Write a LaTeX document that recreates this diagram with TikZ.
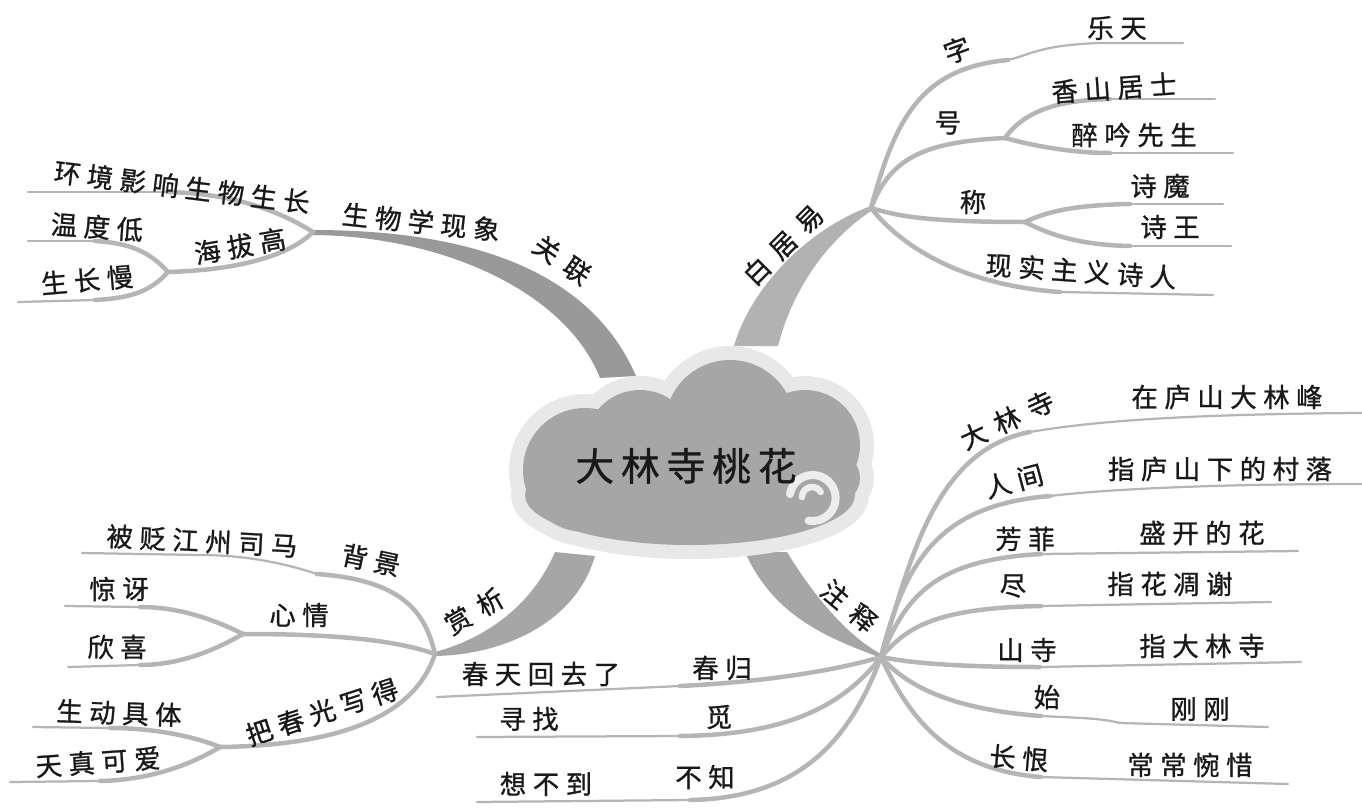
\documentclass[tikz,border=0pt]{standalone}
\usepackage{fontspec}
\newfontfamily\cjk[LetterSpace=25, FakeBold=1]{Noto Sans CJK SC}
\newfontfamily\cjkwide[LetterSpace=40, FakeBold=1]{Noto Sans CJK SC}
\newfontfamily\cjktitle[LetterSpace=18, FakeBold=1]{Noto Sans CJK SC}

\begin{document}
\begin{tikzpicture}[x=0.02cm, y=-0.02cm,
  lbl/.style={font=\cjk\fontsize{15}{18}\selectfont, inner sep=0pt, text=black!90},
  widelbl/.style={font=\cjkwide\fontsize{15}{18}\selectfont, inner sep=0pt, text=black!90},
  limb/.style={draw=black!29, line width=0.09cm, line cap=round},
  twig/.style={draw=black!29, line width=0.045cm, line cap=round},
  cloudshape/.style={insert path={(585,470) circle[radius=62] (640,445) circle[radius=55]
    (730,425) circle[radius=65] (805,445) circle[radius=55] (835,478) circle[radius=25]
    (690,495) ellipse[x radius=165, y radius=50]}}]

  \useasboundingbox (0,0) rectangle (1362,808);

  % Hubs
  \coordinate (hubA) at (313,232);
  \coordinate (hubB) at (871,208);
  \coordinate (hubC) at (881,657);
  \coordinate (hubD) at (435,654);

  % Main branches (tapered)
  \fill[black!40] (313,230) .. controls (470,230) and (590,270) .. (636,376) -- (600,378)
    .. controls (565,290) and (440,236) .. (313,235) -- cycle;
  \fill[black!30] (734,346) .. controls (750,290) and (805,230) .. (871,206) -- (871,211)
    .. controls (835,235) and (795,280) .. (778,346) -- cycle;
  \fill[black!35] (745,552) .. controls (775,620) and (835,640) .. (881,658) -- (881,654)
    .. controls (845,635) and (810,590) .. (787,552) -- cycle;
  \fill[black!35] (555,552) .. controls (530,610) and (480,640) .. (435,652) -- (435,656)
    .. controls (500,655) and (575,625) .. (595,556) -- cycle;

  % Cloud
  \path[draw=black!9, fill=black!9, line width=0.56cm, cloudshape];
  \path[fill=black!35, cloudshape];
  \draw[black!7, line width=0.16cm, line cap=round] (790,494) arc[start angle=190, end angle=460, radius=23];
  \draw[black!7, line width=0.13cm, line cap=round] (802,497) arc[start angle=180, end angle=330, radius=10];
  \node[font=\cjktitle\fontsize{22}{26}\selectfont, inner sep=0pt, text=black!90] (title) at (686,466) {大林寺桃花};

  % Upper left group
  \coordinate (envK) at (167,192);
  \coordinate (envE) at (28,192);
  \coordinate (hbH) at (168,272);
  \coordinate (wdK) at (95,241);
  \coordinate (wdE) at (28,241);
  \coordinate (szK) at (95,300);
  \coordinate (szE) at (18,302);
  \draw[limb] (hubA) .. controls (270,205) and (220,193) .. (envK);
  \draw[twig] (envK) -- (envE);
  \draw[limb] (hubA) .. controls (290,255) and (240,270) .. (hbH);
  \draw[limb] (hbH) .. controls (150,252) and (130,243) .. (wdK);
  \draw[twig] (wdK) -- (wdE);
  \draw[limb] (hbH) .. controls (150,292) and (130,298) .. (szK);
  \draw[twig] (szK) -- (szE);

  \node[widelbl, rotate=-35] (guanlian) at (562,260) {关联};
  \node[lbl, rotate=-6] (swxx) at (421,222) {生物学现象};
  \node[lbl, rotate=-7] (hjyx) at (182,187) {环境影响生物生长};
  \node[lbl, rotate=10] (hbg) at (240,246) {海拔高};
  \node[lbl, rotate=-4] (wdd) at (97,227) {温度低};
  \node[lbl, rotate=5] (szm) at (87,280) {生长慢};

  % Upper right group
  \coordinate (ziK) at (1008,60);
  \coordinate (ziE) at (1183,43);
  \coordinate (haoH) at (1005,138);
  \coordinate (xsK) at (1110,99);
  \coordinate (xsE) at (1215,99);
  \coordinate (zyK) at (1110,153);
  \coordinate (zyE) at (1233,153);
  \coordinate (chH) at (1025,222);
  \coordinate (smK) at (1130,204);
  \coordinate (smE) at (1223,204);
  \coordinate (swK) at (1130,246);
  \coordinate (swE) at (1231,246);
  \coordinate (xsrK) at (1060,292);
  \coordinate (xsrE) at (1213,295);
  \draw[limb] (hubB) .. controls (895,120) and (920,68) .. (ziK);
  \draw[twig] (ziK) .. controls (1030,55) and (1040,45) .. (1100,43) -- (ziE);
  \draw[limb] (hubB) .. controls (890,160) and (920,142) .. (haoH);
  \draw[limb] (haoH) .. controls (1025,110) and (1060,100) .. (xsK);
  \draw[twig] (xsK) -- (xsE);
  \draw[limb] (haoH) .. controls (1030,145) and (1070,153) .. (zyK);
  \draw[twig] (zyK) -- (zyE);
  \draw[limb] (hubB) .. controls (895,215) and (920,222) .. (chH);
  \draw[limb] (chH) .. controls (1050,210) and (1080,205) .. (smK);
  \draw[twig] (smK) -- (smE);
  \draw[limb] (chH) .. controls (1050,235) and (1080,245) .. (swK);
  \draw[twig] (swK) -- (swE);
  \draw[limb] (hubB) .. controls (900,245) and (960,285) .. (xsrK);
  \draw[twig] (xsrK) -- (xsrE);

  \node[widelbl, rotate=45] (bjy) at (783,245) {白居易};
  \node[lbl, rotate=20] (zi) at (957,50) {字};
  \node[lbl] (letian) at (1117,28) {乐天};
  \node[lbl] (hao) at (948,123) {号};
  \node[lbl, rotate=4] (xsjs) at (1114,88) {香山居士};
  \node[lbl] (zyxs) at (1134,135) {醉吟先生};
  \node[lbl] (cheng) at (973,202) {称};
  \node[lbl] (shimo) at (1160,186) {诗魔};
  \node[lbl] (shiwang) at (1170,227) {诗王};
  \node[lbl, rotate=-4] (xszy) at (1081,271) {现实主义诗人};

  % Lower right group
  \coordinate (dlK) at (1030,432);
  \coordinate (dlE) at (1362,413);
  \coordinate (rjK) at (1050,496);
  \coordinate (rjE) at (1362,484);
  \coordinate (ffK) at (1041,554);
  \coordinate (ffE) at (1298,551);
  \coordinate (jinK) at (1041,606);
  \coordinate (jinE) at (1271,602);
  \coordinate (ssK) at (1040,667);
  \coordinate (ssE) at (1301,662);
  \coordinate (shiK) at (1041,716);
  \coordinate (shiE) at (1268,727);
  \coordinate (chK) at (1041,777);
  \coordinate (chE) at (1288,784);
  \coordinate (cgK) at (680,686);
  \coordinate (cgE) at (437,697);
  \coordinate (miK) at (680,736);
  \coordinate (miE) at (477,737);
  \coordinate (bzK) at (690,800);
  \coordinate (bzE) at (477,802);
  \draw[limb] (hubC) .. controls (910,560) and (935,450) .. (dlK);
  \draw[twig] (dlK) .. controls (1100,420) and (1200,414) .. (dlE);
  \draw[limb] (hubC) .. controls (905,560) and (940,505) .. (rjK);
  \draw[twig] (rjK) .. controls (1100,490) and (1200,484) .. (rjE);
  \draw[limb] (hubC) .. controls (905,600) and (930,560) .. (ffK);
  \draw[twig] (ffK) -- (ffE);
  \draw[limb] (hubC) .. controls (905,630) and (930,608) .. (jinK);
  \draw[twig] (jinK) -- (jinE);
  \draw[limb] (hubC) .. controls (920,665) and (980,667) .. (ssK);
  \draw[twig] (ssK) -- (ssE);
  \draw[limb] (hubC) .. controls (910,690) and (960,710) .. (shiK);
  \draw[twig] (shiK) .. controls (1080,718) and (1100,718) .. (1120,723) -- (shiE);
  \draw[limb] (hubC) .. controls (910,720) and (950,770) .. (chK);
  \draw[twig] (chK) -- (chE);
  \draw[limb] (hubC) .. controls (830,672) and (760,682) .. (cgK);
  \draw[twig] (cgK) -- (cgE);
  \draw[limb] (hubC) .. controls (840,710) and (780,735) .. (miK);
  \draw[twig] (miK) -- (miE);
  \draw[limb] (hubC) .. controls (850,740) and (800,798) .. (bzK);
  \draw[twig] (bzK) -- (bzE);

  \node[widelbl, rotate=-40] (zhushi) at (849,606) {注释};
  \node[widelbl, rotate=25] (dls) at (1007,420) {大林寺};
  \node[lbl] (zlsd) at (1227,397) {在庐山大林峰};
  \node[lbl, rotate=15] (renjian) at (1014,481) {人间};
  \node[lbl] (zlsx) at (1220,469) {指庐山下的村落};
  \node[lbl] (fangfei) at (1025,539) {芳菲};
  \node[lbl] (skdh) at (1202,533) {盛开的花};
  \node[lbl] (jin) at (1013,586) {尽};
  \node[lbl] (zhdx) at (1170,584) {指花凋谢};
  \node[lbl] (shansi) at (1027,650) {山寺};
  \node[lbl] (zdls) at (1202,646) {指大林寺};
  \node[lbl] (shi) at (1047,697) {始};
  \node[lbl] (ganggang) at (1200,709) {刚刚};
  \node[lbl, rotate=-5] (changhen) at (1019,758) {长恨};
  \node[lbl] (ccwx) at (1190,765) {常常惋惜};
  \node[lbl] (cthql) at (541,674) {春天回去了};
  \node[lbl] (chungui) at (722,668) {春归};
  \node[lbl] (xunzhao) at (529,719) {寻找};
  \node[lbl] (mi) at (719,717) {觅};
  \node[lbl] (xbd) at (546,784) {想不到};
  \node[lbl] (buzhi) at (705,777) {不知};

  % Lower left group
  \coordinate (bjK) at (317,574);
  \coordinate (bjE) at (82,553);
  \coordinate (xqH) at (243,634);
  \coordinate (jyK) at (140,607);
  \coordinate (jyE) at (65,606);
  \coordinate (xxK) at (140,665);
  \coordinate (xxE) at (68,667);
  \coordinate (bcH) at (220,747);
  \coordinate (sdK) at (110,728);
  \coordinate (sdE) at (33,727);
  \coordinate (tzK) at (100,781);
  \coordinate (tzE) at (10,782);
  \draw[limb] (hubD) .. controls (425,610) and (400,580) .. (bjK);
  \draw[twig] (bjK) .. controls (290,565) and (250,555) .. (200,555) -- (bjE);
  \draw[limb] (hubD) .. controls (390,638) and (320,634) .. (xqH);
  \draw[limb] (xqH) .. controls (215,620) and (180,607) .. (jyK);
  \draw[twig] (jyK) -- (jyE);
  \draw[limb] (xqH) .. controls (215,650) and (180,665) .. (xxK);
  \draw[twig] (xxK) -- (xxE);
  \draw[limb] (hubD) .. controls (420,700) and (370,745) .. (bcH);
  \draw[limb] (bcH) .. controls (190,735) and (150,728) .. (sdK);
  \draw[twig] (sdK) -- (sdE);
  \draw[limb] (bcH) .. controls (190,765) and (150,780) .. (tzK);
  \draw[twig] (tzK) -- (tzE);

  \node[widelbl, rotate=30] (shangxi) at (474,611) {赏析};
  \node[lbl, rotate=-12] (beijing) at (371,560) {背景};
  \node[lbl, rotate=-3] (bbjz) at (202,541) {被贬江州司马};
  \node[lbl] (xinqing) at (299,615) {心情};
  \node[lbl] (jingya) at (119,589) {惊讶};
  \node[lbl] (xinxi) at (117,647) {欣喜};
  \node[lbl, rotate=18] (bcgx) at (322,712) {把春光写得};
  \node[lbl, rotate=-2] (sdjt) at (119,713) {生动具体};
  \node[lbl, rotate=4] (tzka) at (98,762) {天真可爱};

\end{tikzpicture}
\end{document}
